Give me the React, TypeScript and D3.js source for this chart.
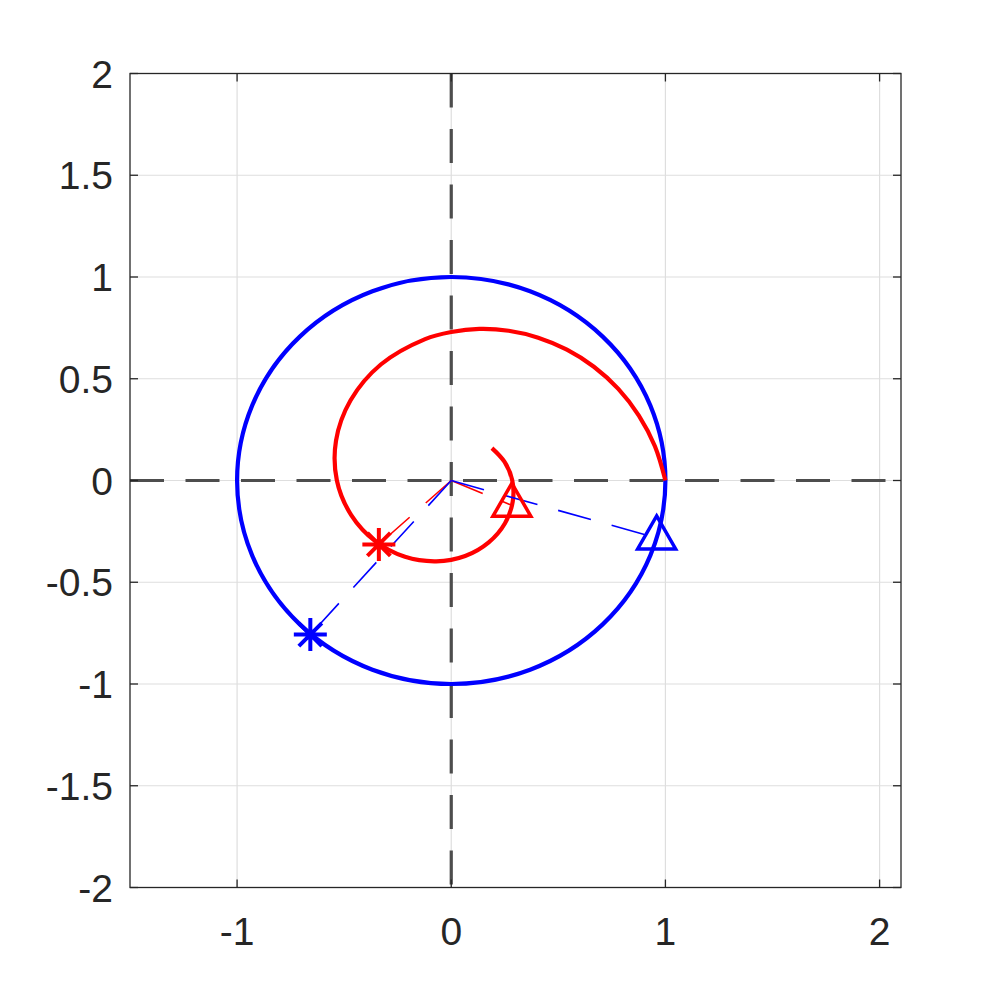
import React from "react";
import * as d3 from "d3";

// ticks
const xTicks = [-1, 0, 1, 2];
const yTicks = [-2, -1.5, -1, -0.5, 0, 0.5, 1, 1.5, 2];

// red spiral, points
const spiralX = [1.0, 0.951, 0.876, 0.78, 0.666, 0.54, 0.406, 0.268, 0.131, 0.0, -0.122, -0.329, -0.47, -0.538, -0.534, -0.467, -0.355, -0.216, -0.07, 0.065, 0.175, 0.251, 0.287, 0.285, 0.249, 0.19];
const spiralY = [0.0, 0.168, 0.319, 0.45, 0.559, 0.643, 0.702, 0.736, 0.745, 0.73, 0.695, 0.57, 0.394, 0.196, 0.0, -0.17, -0.298, -0.375, -0.397, -0.371, -0.304, -0.21, -0.104, 0.0, 0.091, 0.159];

// blue unit circle
const circleRadius = 1;

// markers: [x, y]
const redStar = [-0.338, -0.314];
const redTriangle = [0.283, -0.122];
const blueStar = [-0.658, -0.757];
const blueTriangle = [0.959, -0.282];

const W = 997;
const H = 997;
const left = 130, right = 901, top = 73.5, bottom = 887.5;

const App = () => {
  const x = d3.scaleLinear().domain([-1.5, 2.1]).range([left, right]);
  const y = d3.scaleLinear().domain([-2, 2]).range([bottom, top]);

  const line = d3
    .line<number>()
    .x((_, i) => x(spiralX[i]))
    .y((_, i) => y(spiralY[i]))
    .curve(d3.curveCatmullRom.alpha(0.5));

  const axisColor = "#262626";
  const gridColor = "#dedede";
  const dash = "34 21.5";

  const starPath = "M-16.5,0H16.5M0,-16.5V16.5M-11.5,-11.5L11.5,11.5M-11.5,11.5L11.5,-11.5";
  const triPath = "M0,-22L19,11L-19,11Z";

  const markers = [
    { p: redStar, c: "#ff0000", d: starPath, sw: 4 },
    { p: redTriangle, c: "#ff0000", d: triPath, sw: 3.5 },
    { p: blueStar, c: "#0000ff", d: starPath, sw: 4 },
    { p: blueTriangle, c: "#0000ff", d: triPath, sw: 3.5 },
  ];

  return (
    <svg
      width={W}
      height={H}
      style={{ position: "absolute", left: 0, top: 0, display: "block", background: "#fff" }}
      fontFamily="'Liberation Sans', Arial, Helvetica, sans-serif"
    >
      {/* grid */}
      {xTicks.map((t) => (
        <line key={"gx" + t} x1={x(t)} x2={x(t)} y1={top} y2={bottom} stroke={gridColor} strokeWidth={1.2} />
      ))}
      {yTicks.map((t) => (
        <line key={"gy" + t} x1={left} x2={right} y1={y(t)} y2={y(t)} stroke={gridColor} strokeWidth={1.2} />
      ))}

      {/* dashed axes through origin */}
      <line x1={x(0)} x2={x(0)} y1={top} y2={bottom} stroke="#4d4d4d" strokeWidth={3.2} strokeDasharray={dash} />
      <line x1={left} x2={right} y1={y(0)} y2={y(0)} stroke="#4d4d4d" strokeWidth={3.2} strokeDasharray={dash} />

      {/* blue circle */}
      <ellipse
        cx={x(0)}
        cy={y(0)}
        rx={x(circleRadius) - x(0)}
        ry={y(0) - y(circleRadius)}
        fill="none"
        stroke="#0000ff"
        strokeWidth={4.2}
      />

      {/* red spiral */}
      <path d={line(spiralX) || ""} fill="none" stroke="#ff0000" strokeWidth={4.2} strokeLinejoin="round" />

      {/* thin dashed rays from origin */}
      {markers.map((m, i) => (
        <line
          key={"ray" + i}
          x1={x(0)}
          y1={y(0)}
          x2={x(m.p[0])}
          y2={y(m.p[1])}
          stroke={m.c}
          strokeWidth={1.6}
          strokeDasharray={dash}
        />
      ))}

      {/* markers */}
      {markers.map((m, i) => (
        <path
          key={"mk" + i}
          d={m.d}
          transform={`translate(${x(m.p[0])},${y(m.p[1])})`}
          fill="none"
          stroke={m.c}
          strokeWidth={m.sw}
        />
      ))}

      {/* box */}
      <rect x={left} y={top} width={right - left} height={bottom - top} fill="none" stroke={axisColor} strokeWidth={1.3} />

      {/* ticks, mirrored on all sides */}
      {xTicks.map((t) => (
        <g key={"tx" + t}>
          <line x1={x(t)} x2={x(t)} y1={bottom} y2={bottom - 8} stroke={axisColor} strokeWidth={1.3} />
          <line x1={x(t)} x2={x(t)} y1={top} y2={top + 8} stroke={axisColor} strokeWidth={1.3} />
          <text x={x(t)} y={945} textAnchor="middle" fontSize={39} fill={axisColor}>
            {t}
          </text>
        </g>
      ))}
      {yTicks.map((t) => (
        <g key={"ty" + t}>
          <line x1={left} x2={left + 8} y1={y(t)} y2={y(t)} stroke={axisColor} strokeWidth={1.3} />
          <line x1={right} x2={right - 8} y1={y(t)} y2={y(t)} stroke={axisColor} strokeWidth={1.3} />
          <text x={113} y={y(t) + 14} textAnchor="end" fontSize={39} fill={axisColor}>
            {t}
          </text>
        </g>
      ))}
    </svg>
  );
};

export default App;
